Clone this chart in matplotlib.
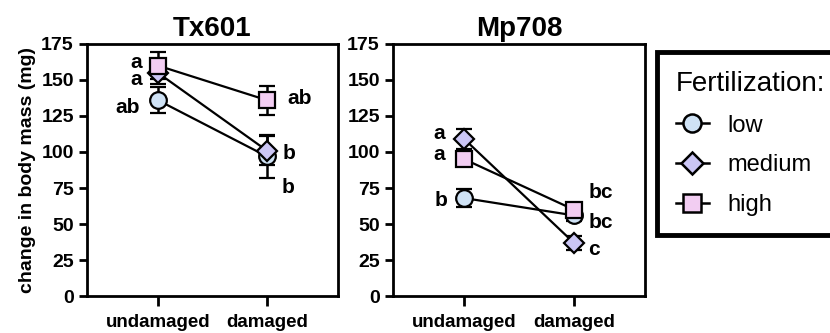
import matplotlib
matplotlib.use("Agg")
import matplotlib.pyplot as plt
from matplotlib.lines import Line2D

plt.rcParams['font.family'] = ['Liberation Sans', 'DejaVu Sans']

# --- data ---
conditions = ["undamaged", "damaged"]
levels = ["low", "medium", "high"]

tx_low = [136, 97]
tx_low_err = [9, 15]
tx_medium = [155, 101]
tx_medium_err = [8, 10]
tx_high = [160, 136]
tx_high_err = [9.5, 10]

mp_low = [68, 56]
mp_low_err = [6, 4]
mp_medium = [109, 37]
mp_medium_err = [7, 5]
mp_high = [95, 60]
mp_high_err = [4, 4]

tx_letters = {"low": ["ab", "b"], "medium": ["a", "b"], "high": ["a", "ab"]}
mp_letters = {"low": ["b", "bc"], "medium": ["a", "c"], "high": ["a", "bc"]}

# offsets (pixels) for the letter labels
tx_offsets = {"low": [(-30, -7), (21, -31)], "medium": [(-22, -7), (22, -3)],
              "high": [(-22, 3), (33, 2)]}
mp_offsets = {"low": [(-23, -2), (27, -7)], "medium": [(-25, 6), (20, -7)],
              "high": [(-25, 5), (27, 17)]}

styles = {
    "low": dict(marker="o", color="#cfe2f5", ms=12),
    "medium": dict(marker="D", color="#cbc6f5", ms=10),
    "high": dict(marker="s", color="#f2cdf2", ms=12),
}

fig = plt.figure(figsize=(8.3, 3.33), dpi=100)
ax1 = fig.add_axes([0.1048, 0.111, 0.302, 0.757])
ax2 = fig.add_axes([0.4735, 0.111, 0.3036, 0.757])


def draw(ax, data, letters, offsets, title):
    x = [0, 1]
    for lvl in levels:
        y, err = data[lvl]
        st = styles[lvl]
        ax.errorbar(x, y, yerr=err, color="black", lw=1.6, capsize=6,
                    capthick=1.8, elinewidth=1.8, marker=st["marker"],
                    ms=st["ms"], mfc=st["color"], mec="black", mew=1.6,
                    zorder=3)
        for i in range(2):
            ax.annotate(letters[lvl][i], (x[i], y[i]), xytext=offsets[lvl][i],
                        textcoords="offset pixels", ha="center", va="center",
                        fontsize=15, fontweight="bold")
    ax.set_xlim(-0.65, 1.65)
    ax.set_ylim(0, 175)
    ax.set_yticks([0, 25, 50, 75, 100, 125, 150, 175])
    ax.set_xticks(x)
    ax.set_xticklabels(conditions)
    for s in ax.spines.values():
        s.set_linewidth(2)
    ax.tick_params(width=2, length=6, labelsize=14)
    ax.tick_params(axis="x", labelsize=13.5, length=7, pad=6)
    for lab in ax.get_xticklabels() + ax.get_yticklabels():
        lab.set_fontweight("bold")
    ax.set_title(title, fontsize=20, fontweight="bold", pad=6)


draw(ax1, {"low": (tx_low, tx_low_err), "medium": (tx_medium, tx_medium_err),
           "high": (tx_high, tx_high_err)}, tx_letters, tx_offsets, "Tx601")
draw(ax2, {"low": (mp_low, mp_low_err), "medium": (mp_medium, mp_medium_err),
           "high": (mp_high, mp_high_err)}, mp_letters, mp_offsets, "Mp708")
ax1.set_ylabel("change in body mass (mg)", fontsize=14, fontweight="bold",
               labelpad=4)

handles = []
for lvl in levels:
    st = styles[lvl]
    handles.append(Line2D([0], [0], color="black", lw=1.8, marker=st["marker"],
                          ms=st["ms"] + 1, mfc=st["color"], mec="black",
                          mew=1.8))
leg = fig.legend(handles, levels, title="Fertilization:", loc="upper left",
                 bbox_to_anchor=(0.7916, 0.844), borderaxespad=0,
                 fontsize=17, title_fontsize=20,
                 frameon=True, fancybox=False, edgecolor="black", framealpha=1,
                 handlelength=1.4, handletextpad=0.8, labelspacing=0.75,
                 borderpad=0.8, alignment="left")
leg.get_frame().set_linewidth(3.5)

fig.savefig("out.png", dpi=100)
